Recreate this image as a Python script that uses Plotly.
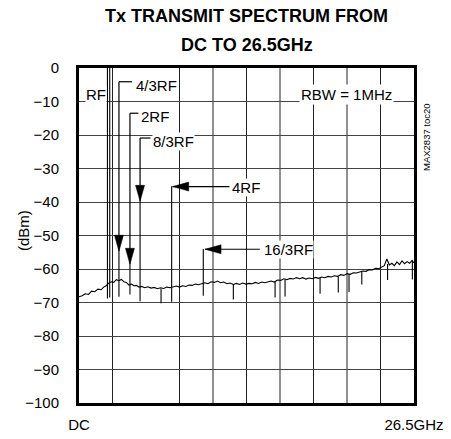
import plotly.graph_objects as go

# ---------------- data ----------------
noise_f = [0.00, 0.25, 0.50, 0.75, 1.00, 1.25, 1.50, 1.75, 1.95, 2.15, 2.35, 2.55, 2.75, 2.95,
           3.15, 3.35, 3.55, 3.75, 3.95, 4.15, 4.35, 4.55, 4.75, 4.95, 5.20, 5.45, 5.70, 5.95,
           6.20, 6.45, 6.70, 6.95, 7.20, 7.45, 7.70, 7.95, 8.20, 8.45, 8.70, 8.95, 9.20, 9.45,
           9.70, 9.95, 10.20, 10.45, 10.70, 10.95, 11.20, 11.45, 11.70, 11.95, 12.20, 12.45,
           12.70, 12.95, 13.20, 13.45, 13.70, 13.95, 14.20, 14.45, 14.70, 14.95, 15.20, 15.45,
           15.70, 15.95, 16.20, 16.45, 16.70, 16.95, 17.20, 17.45, 17.70, 17.95, 18.20, 18.45,
           18.70, 18.95, 19.20, 19.45, 19.70, 19.95, 20.20, 20.45, 20.70, 20.95, 21.20, 21.45,
           21.70, 21.95, 22.20, 22.45, 22.70, 22.95, 23.20, 23.45, 23.70, 23.95, 24.15, 24.35,
           24.55, 24.75, 24.95, 25.15, 25.35, 25.55, 25.75, 25.95, 26.15, 26.35, 26.50]
noise_dbm = [-68.3, -68.0, -67.4, -67.6, -66.6, -66.8, -66.0, -66.2, -65.4, -65.0, -64.2, -63.8,
             -64.0, -63.2, -63.5, -63.1, -63.8, -64.0, -64.8, -64.5, -65.0, -64.9, -65.4, -65.2,
             -65.6, -65.3, -65.7, -65.5, -65.9, -65.6, -65.8, -65.4, -65.6, -65.3, -65.1, -65.4,
             -65.0, -65.2, -64.8, -64.9, -64.5, -64.7, -64.3, -64.1, -64.4, -63.8, -64.0, -63.6,
             -64.1, -63.9, -64.4, -64.2, -64.6, -64.3, -64.6, -64.2, -64.5, -64.3, -64.4, -64.0,
             -64.3, -63.9, -64.1, -63.8, -63.6, -63.9, -63.3, -63.4, -62.9, -63.2, -62.8, -63.0,
             -62.6, -62.9, -62.6, -63.0, -62.7, -62.9, -62.5, -62.8, -62.4, -62.6, -62.2, -62.4,
             -62.0, -62.2, -61.7, -61.9, -61.4, -61.6, -61.1, -61.2, -60.8, -60.6, -60.7, -60.2,
             -60.3, -59.8, -59.9, -59.3, -59.0, -57.0, -58.8, -58.3, -59.0, -57.9, -58.7, -57.6,
             -58.4, -57.8, -58.3, -57.4, -58.2]

# upward spurs (carrier and harmonics)
spur_f = [2.25, 2.43, 3.16, 4.03, 4.83, 7.33, 9.83]
spur_top = [0.0, 0.0, -54.7, -58.6, -39.8, -35.3, -54.0]
spur_base = [-68.8, -68.5, -68.3, -67.6, -69.6, -69.8, -68.0]

# downward dips in the noise floor
dip_f = [6.49, 12.21, 15.51, 16.30, 19.07, 20.51, 21.36, 22.37, 24.41, 26.37]
dip_top = [-65.8, -64.5, -63.8, -63.1, -62.7, -62.2, -61.5, -60.7, -58.5, -57.6]
dip_low = [-70.2, -69.1, -68.5, -68.2, -67.4, -67.0, -66.9, -64.6, -63.3, -63.1]

y_ticks = [0, -10, -20, -30, -40, -50, -60, -70, -80, -90, -100]
x_tickvals = [0, 26.5]
x_ticktext = ["DC", "26.5GHz"]
v_grid = [2.65, 7.95, 10.6, 13.25, 15.9, 18.55, 21.2, 23.85]

FONT = "Arial, Liberation Sans, sans-serif"

# ---------------- figure ----------------
seg_x, seg_y = [], []
for f, top, base in zip(spur_f, spur_top, spur_base):
    seg_x += [f, f, None]
    seg_y += [base, top, None]
for f, top, low in zip(dip_f, dip_top, dip_low):
    seg_x += [f, f, None]
    seg_y += [top, low, None]

fig = go.Figure()
fig.add_trace(go.Scatter(x=noise_f, y=noise_dbm, mode="lines",
                         line=dict(color="black", width=1.1), hoverinfo="skip"))
fig.add_trace(go.Scatter(x=seg_x, y=seg_y, mode="lines",
                         line=dict(color="black", width=1.1), hoverinfo="skip"))

shapes = []
for g in v_grid:
    shapes.append(dict(type="line", xref="x", yref="y domain", x0=g, x1=g, y0=0, y1=1,
                       line=dict(color="#222", width=1), layer="below"))

LINE = dict(color="black", width=1.2)
DOWN_HEAD = "M0,0 L-4.5,16 L4.5,16 Z"
LEFT_HEAD = "M0,0 L16,4.5 L16,-4.5 Z"

# bracket callouts pointing down onto a spur: (f corner, y corner, f end of bracket, tip y)
brackets = [
    (3.16, -4.1, 4.2, -54.7),
    (4.03, -13.5, 4.7, -58.6),
    (4.83, -20.9, 5.65, -39.8),
]
for fc, yc, fe, tip in brackets:
    shapes.append(dict(type="line", xref="x", yref="y", x0=fc, x1=fe, y0=yc, y1=yc, line=LINE))
    shapes.append(dict(type="line", xref="x", yref="y", x0=fc, x1=fc, y0=yc, y1=tip, line=LINE))
    shapes.append(dict(type="path", xref="x", yref="y", xsizemode="pixel", ysizemode="pixel",
                       xanchor=fc, yanchor=tip, path=DOWN_HEAD,
                       fillcolor="black", line=dict(color="black", width=0.5)))

# horizontal callouts: (tip f, tip y, end f of line)
for tipf, tipy, endf in [(7.41, -35.4, 11.9), (9.97, -54.1, 14.3)]:
    shapes.append(dict(type="line", xref="x", yref="y", x0=tipf, x1=endf, y0=tipy, y1=tipy,
                       line=LINE))
    shapes.append(dict(type="path", xref="x", yref="y", xsizemode="pixel", ysizemode="pixel",
                       xanchor=tipf, yanchor=tipy, path=LEFT_HEAD,
                       fillcolor="black", line=dict(color="black", width=0.5)))

annotations = []
lab_font = dict(family=FONT, size=15, color="black")
for txt, fx, yy in [("4/3RF", 6.15, -5.1), ("2RF", 6.05, -14.5), ("8/3RF", 7.5, -21.9),
                    ("RF", 1.35, -8.0), ("4RF", 13.2, -35.6), ("16/3RF", 16.55, -54.2)]:
    annotations.append(dict(x=fx, y=yy, xref="x", yref="y", text=txt, showarrow=False,
                            font=lab_font, bgcolor="white", borderpad=0))

annotations.append(dict(x=21.18, y=-8.0, xref="x", yref="y", text="RBW = 1MHz",
                        showarrow=False, font=lab_font, bgcolor="white", borderpad=1))

# title lines
annotations.append(dict(x=0.5, y=1.156, xref="paper", yref="paper", text="<b>Tx TRANSMIT SPECTRUM FROM</b>",
                        showarrow=False, font=dict(family=FONT, size=18, color="black"),
                        xanchor="center", yanchor="middle"))
annotations.append(dict(x=0.5, y=1.068, xref="paper", yref="paper", text="<b>DC TO 26.5GHz</b>",
                        showarrow=False, font=dict(family=FONT, size=18, color="black"),
                        xanchor="center", yanchor="middle"))
# y axis title
annotations.append(dict(x=-0.197, y=0.515, xref="paper", yref="paper", text="(dBm)",
                        textangle=-90, showarrow=False,
                        font=dict(family=FONT, size=15, color="black")))
# side code
annotations.append(dict(x=1.015, y=0.9, xref="paper", yref="paper", text="MAX2837 toc20",
                        textangle=-90, showarrow=False, xanchor="left",
                        font=dict(family=FONT, size=9.5, color="black")))

fig.update_layout(
    width=451, height=439,
    margin=dict(l=79, r=37, t=68, b=36, autoexpand=False),
    paper_bgcolor="white", plot_bgcolor="white",
    showlegend=False,
    font=dict(family=FONT, size=15, color="black"),
    shapes=shapes, annotations=annotations,
    xaxis=dict(range=[0, 26.5], tickvals=x_tickvals, ticktext=x_ticktext, showgrid=False,
               zeroline=False, showline=True, mirror=True, linewidth=3, linecolor="black",
               ticks="", ticklabelstandoff=6, automargin=False,
               tickfont=dict(family=FONT, size=15)),
    yaxis=dict(range=[-100, 0], tickvals=y_ticks, showgrid=True, gridcolor="#444", gridwidth=1,
               zeroline=False, showline=True, mirror=True, linewidth=3, linecolor="black",
               ticks="", ticklabelstandoff=14, automargin=False,
               tickfont=dict(family=FONT, size=15)),
)

fig.write_html("out.html", config={"displayModeBar": False},
               post_script="document.body.style.margin='0px';")
